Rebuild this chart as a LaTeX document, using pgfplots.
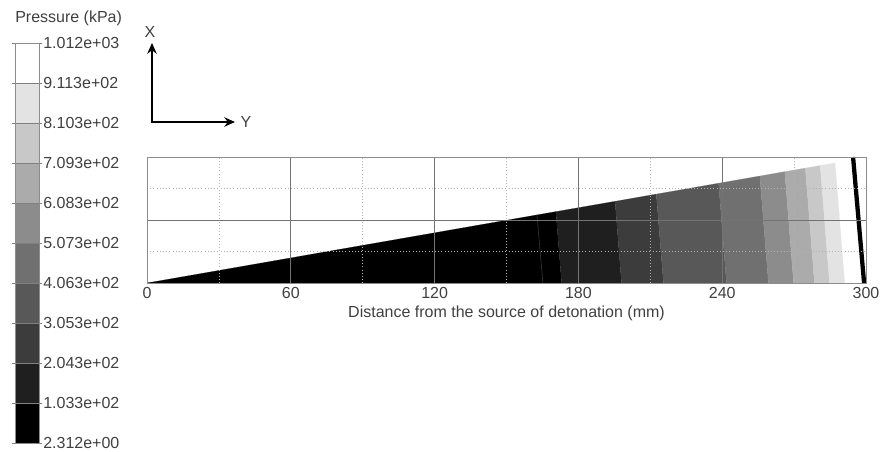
\documentclass[border=0pt]{standalone}
\usepackage{fontspec}
\setmainfont{Liberation Sans}
\usepackage{pgfplots}
\pgfplotsset{compat=1.18}
\usetikzlibrary{arrows.meta}
\definecolor{Lzero}{HTML}{000000}
\definecolor{Lone}{HTML}{1F1F1F}
\definecolor{Ltwo}{HTML}{3C3C3C}
\definecolor{Lthree}{HTML}{585858}
\definecolor{Lfour}{HTML}{707070}
\definecolor{Lfive}{HTML}{8C8C8C}
\definecolor{Lsix}{HTML}{ABABAB}
\definecolor{Lseven}{HTML}{C8C8C8}
\definecolor{Leight}{HTML}{E3E3E3}
\definecolor{Lnine}{HTML}{FFFFFF}
\definecolor{txt}{HTML}{404040}
\begin{document}
\begin{tikzpicture}[font=\fontsize{12}{14}\selectfont]
\useasboundingbox (0,0) rectangle (660pt,-339pt);
% main plot
\begin{axis}[
  at={(110.25pt,-212.25pt)}, anchor=south west,
  width=539.25pt, height=94.5pt, scale only axis,
  xmin=0, xmax=300, ymin=0, ymax=4,
  xtick={0,60,120,180,240,300},
  minor xtick={30,90,150,210,270},
  ytick={2}, minor ytick={1,3},
  yticklabels={},
  major tick length=0pt, minor tick length=0pt,
  xmajorgrids, xminorgrids, ymajorgrids, yminorgrids,
  major grid style={black!55, line width=0.6pt},
  minor grid style={black!30, dotted, line width=0.6pt},
  axis line style={black!45, line width=0.6pt},
  axis on top,
  /pgf/number format/assume math mode=true,
  tick label style={text=txt},
  xticklabel style={anchor=center, yshift=-7.5pt},
  xlabel={Distance from the source of detonation (mm)},
  xlabel style={text=txt, at={(axis description cs:0.5,0)}, anchor=center, yshift=-22.5pt},
]
\addplot[fill=Lzero, draw=Lzero, line width=0.1pt] coordinates {(0,0) (173.0,0) (170.6,2.266)} -- cycle;
\addplot[fill=Lone, draw=Lone, line width=0.1pt] coordinates {(173.0,0) (198.0,0) (195.3,2.593) (170.6,2.266)} -- cycle;
\addplot[fill=Ltwo, draw=Ltwo, line width=0.1pt] coordinates {(198.0,0) (215.5,0) (212.5,2.822) (195.3,2.593)} -- cycle;
\addplot[fill=Lthree, draw=Lthree, line width=0.1pt] coordinates {(215.5,0) (241.8,0) (238.5,3.167) (212.5,2.822)} -- cycle;
\addplot[fill=Lfour, draw=Lfour, line width=0.1pt] coordinates {(241.8,0) (259.3,0) (255.7,3.396) (238.5,3.167)} -- cycle;
\addplot[fill=Lfive, draw=Lfive, line width=0.1pt] coordinates {(259.3,0) (269.8,0) (266.1,3.534) (255.7,3.396)} -- cycle;
\addplot[fill=Lsix, draw=Lsix, line width=0.1pt] coordinates {(269.8,0) (278.5,0) (274.7,3.648) (266.1,3.534)} -- cycle;
\addplot[fill=Lseven, draw=Lseven, line width=0.1pt] coordinates {(278.5,0) (284.8,0) (280.9,3.730) (274.7,3.648)} -- cycle;
\addplot[fill=Leight, draw=Leight, line width=0.1pt] coordinates {(284.8,0) (291.1,0) (287.1,3.813) (280.9,3.730)} -- cycle;
\addplot[black!80, line width=0.5pt] coordinates {(165.2,0) (162.7,2.161)};
\addplot[black, line width=3.2pt] coordinates {(299.2,0) (294.6,4)};
\end{axis}
% colour bar
\begin{axis}[
  at={(11.25pt,-332.25pt)}, anchor=south west,
  width=18pt, height=300pt, scale only axis,
  xmin=0, xmax=1, ymin=0, ymax=10,
  xtick=\empty,
  ytick={0,1,...,10},
  yticklabels={2.312e+00,1.033e+02,2.043e+02,3.053e+02,4.063e+02,5.073e+02,6.083e+02,7.093e+02,8.103e+02,9.113e+02,1.012e+03},
  yticklabel pos=right,
  tick align=outside, major tick length=2.5pt,
  tick style={black!50, line width=0.6pt},
  ymajorgrids, major grid style={black!50, line width=0.6pt},
  axis line style={black!45, line width=0.6pt},
  axis on top,
  yticklabel style={text=txt, inner xsep=0.5pt},
]
\addplot[fill=Lzero, draw=none] coordinates {(0,0) (1,0) (1,1) (0,1)} -- cycle;
\addplot[fill=Lone, draw=none] coordinates {(0,1) (1,1) (1,2) (0,2)} -- cycle;
\addplot[fill=Ltwo, draw=none] coordinates {(0,2) (1,2) (1,3) (0,3)} -- cycle;
\addplot[fill=Lthree, draw=none] coordinates {(0,3) (1,3) (1,4) (0,4)} -- cycle;
\addplot[fill=Lfour, draw=none] coordinates {(0,4) (1,4) (1,5) (0,5)} -- cycle;
\addplot[fill=Lfive, draw=none] coordinates {(0,5) (1,5) (1,6) (0,6)} -- cycle;
\addplot[fill=Lsix, draw=none] coordinates {(0,6) (1,6) (1,7) (0,7)} -- cycle;
\addplot[fill=Lseven, draw=none] coordinates {(0,7) (1,7) (1,8) (0,8)} -- cycle;
\addplot[fill=Leight, draw=none] coordinates {(0,8) (1,8) (1,9) (0,9)} -- cycle;
\addplot[fill=Lnine, draw=none] coordinates {(0,9) (1,9) (1,10) (0,10)} -- cycle;
\end{axis}
% legend title
\node[anchor=west, inner sep=0pt, text=txt] at (11.25pt,-13.5pt) {Pressure (kPa)};
% X / Y orientation arrows
\draw[line width=1.5pt, -{Stealth[length=8pt,width=7pt]}] (114pt,-91.5pt) -- (114pt,-32.25pt);
\draw[line width=1.5pt, -{Stealth[length=8pt,width=7pt]}] (113.25pt,-91.5pt) -- (176.25pt,-91.5pt);
\node[text=txt, inner sep=0pt] at (112.5pt,-24pt) {X};
\node[text=txt, inner sep=0pt] at (184.5pt,-91.5pt) {Y};
\end{tikzpicture}
\end{document}
